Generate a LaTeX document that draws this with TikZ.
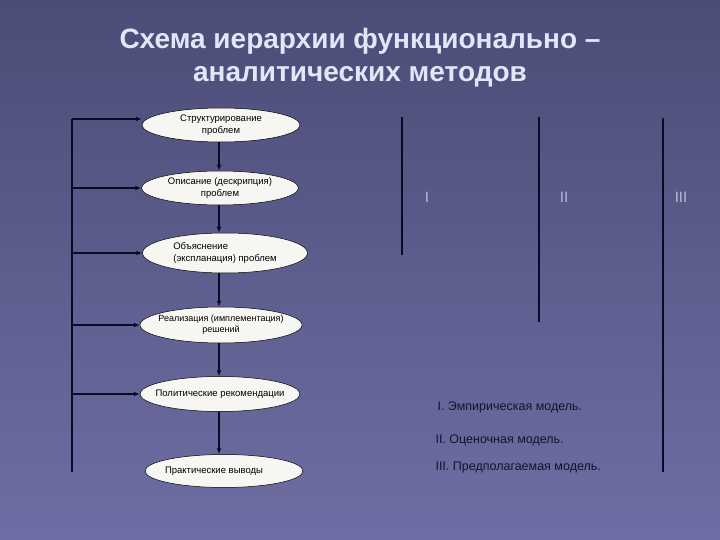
\documentclass[tikz,border=0pt]{standalone}
\usepackage{fontspec}
\setmainfont{Liberation Sans}
\usetikzlibrary{arrows.meta,shapes.geometric}
\definecolor{bgtop}{RGB}{76,76,120}
\definecolor{bgbot}{RGB}{110,110,164}
\definecolor{titlec}{RGB}{222,232,246}
\definecolor{linec}{RGB}{10,10,38}
\definecolor{romanc}{RGB}{185,188,215}
\definecolor{legc}{RGB}{20,20,45}
\definecolor{ellfill}{RGB}{246,246,242}
\begin{document}
\begin{tikzpicture}[x=1pt,y=-1pt,
  ell/.style={ellipse, draw=black, line width=0.5pt, fill=ellfill,
    inner xsep=-30pt, inner ysep=-8pt,
    minimum height=34pt, font=\fontsize{9.5}{11.5}\selectfont, text=black},
  conn/.style={draw=linec, line width=1.6pt},
  arr/.style={conn, -{Latex[length=6pt,width=5pt]}},
  roman/.style={text=romanc, font=\fontsize{15}{17}\selectfont},
  leg/.style={anchor=west, text=legc, font=\fontsize{12.5}{14}\selectfont},
  ttl/.style={text=titlec, font=\bfseries\fontsize{28}{33}\selectfont, align=center}]
\shade[top color=bgtop, bottom color=bgbot] (0,0) rectangle (720,540);
\useasboundingbox (0,0) rectangle (720,540);

\node[ttl] (title) at (360,58) {Схема иерархии функционально –\\аналитических методов};

\node[ell, minimum width=158pt, align=center] (e1) at (221,125) {Структурирование\\проблем};
\node[ell, minimum width=157pt, align=center] (e2) at (220,188) {Описание (дескрипция)\\проблем};
\node[ell, minimum width=165pt, minimum height=40pt, align=left] (e3) at (225,253) {Объяснение\\(экспланация) проблем};
\node[ell, minimum width=162pt, minimum height=36pt, align=center, font=\fontsize{9}{11}\selectfont] (e4) at (221,325) {Реализация (имплементация)\\решений};
\node[ell, minimum width=160pt, minimum height=35pt] (e5) at (220,394) {Политические рекомендации};
\node[ell, minimum width=158pt, minimum height=33pt] (e6) at (224,471) {Практические выводы\hspace*{20pt}};

\coordinate (ltop) at (72,119);
\coordinate (lbot) at (72,472);
\draw[conn] (ltop) -- (lbot);
\draw[arr] (ltop) -- (ltop -| e1.west);
\foreach \n in {e2,e3,e4,e5}{
  \draw[arr] (ltop |- \n.west) -- (\n.west);
}
\coordinate (cx) at (219,0);
\draw[arr] (cx |- e1.south) -- (cx |- e2.north);
\draw[arr] (cx |- e2.south) -- (cx |- e3.north);
\draw[arr] (cx |- e3.south) -- (cx |- e4.north);
\draw[arr] (cx |- e4.south) -- (cx |- e5.north);
\draw[arr] (cx |- e5.south) -- (cx |- e6.north);

\coordinate (a1) at (402,117);
\coordinate (b1) at (402,255);
\coordinate (a2) at (539,117);
\coordinate (b2) at (539,322);
\coordinate (a3) at (663,118);
\coordinate (b3) at (663,472);
\draw[conn] (a1) -- (b1);
\draw[conn] (a2) -- (b2);
\draw[conn] (a3) -- (b3);

\node[roman] (r1) at (427,197) {I};
\node[roman] (r2) at (564,197) {II};
\node[roman] (r3) at (681,197) {III};

\node[leg] (l1) at (434,407) {I. Эмпирическая модель.};
\node[leg] (l2) at (432,440) {II. Оценочная модель.};
\node[leg] (l3) at (432,467) {III. Предполагаемая модель.};
\end{tikzpicture}
\end{document}
